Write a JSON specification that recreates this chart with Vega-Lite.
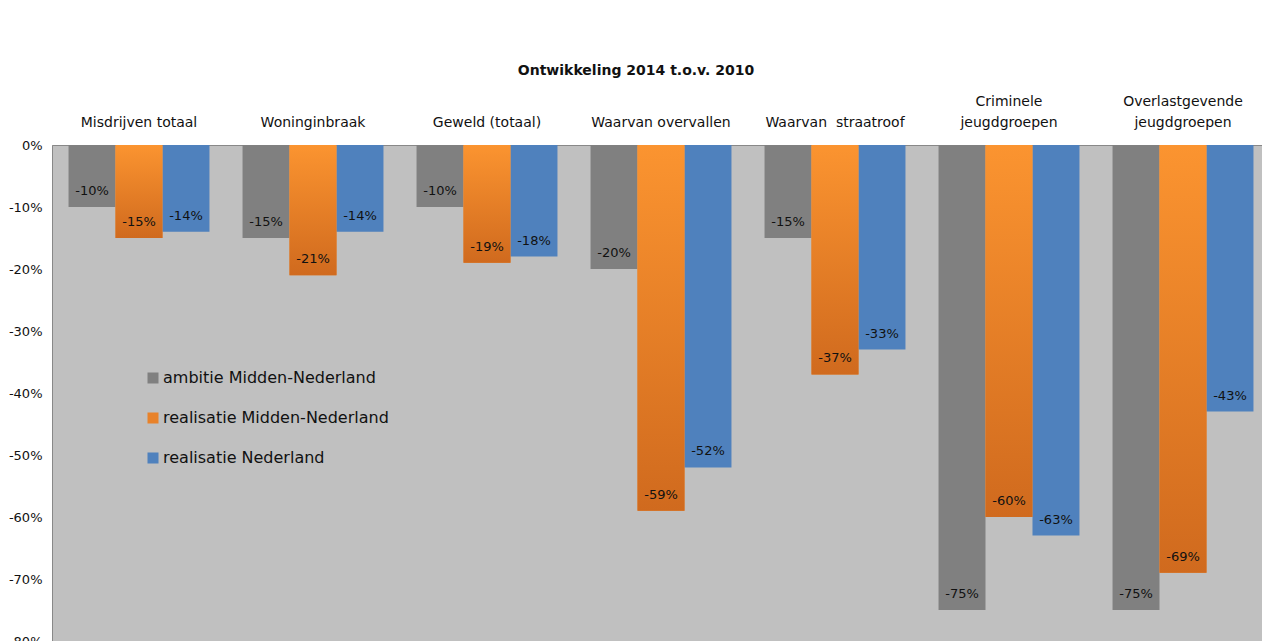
{
  "$schema": "https://vega.github.io/schema/vega-lite/v6.json",
  "width": 1218,
  "height": 496,
  "autosize": {"type": "none"},
  "padding": {"left": 52, "top": 145, "right": 0, "bottom": 0},
  "background": "white",
  "title": {"text": "Ontwikkeling  2014 t.o.v. 2010", "fontSize": 14, "fontWeight": "bold", "font": "DejaVu Sans", "color": "#111", "dx": -25, "offset": 16},
  "config": {
    "view": {"stroke": null, "fill": "#c0c0c0"},
    "font": "DejaVu Sans",
    "locale": {"number": {"decimal": ".", "thousands": ",", "grouping": [3], "currency": ["", ""], "minus": "-"}}
  },
  "data": {"values": [
    {"cat": "Misdrijven totaal", "series": "ambitie Midden-Nederland", "value": -0.10},
    {"cat": "Misdrijven totaal", "series": "realisatie Midden-Nederland", "value": -0.15},
    {"cat": "Misdrijven totaal", "series": "realisatie Nederland", "value": -0.14},
    {"cat": "Woninginbraak", "series": "ambitie Midden-Nederland", "value": -0.15},
    {"cat": "Woninginbraak", "series": "realisatie Midden-Nederland", "value": -0.21},
    {"cat": "Woninginbraak", "series": "realisatie Nederland", "value": -0.14},
    {"cat": "Geweld (totaal)", "series": "ambitie Midden-Nederland", "value": -0.10},
    {"cat": "Geweld (totaal)", "series": "realisatie Midden-Nederland", "value": -0.19},
    {"cat": "Geweld (totaal)", "series": "realisatie Nederland", "value": -0.18},
    {"cat": "Waarvan overvallen", "series": "ambitie Midden-Nederland", "value": -0.20},
    {"cat": "Waarvan overvallen", "series": "realisatie Midden-Nederland", "value": -0.59},
    {"cat": "Waarvan overvallen", "series": "realisatie Nederland", "value": -0.52},
    {"cat": "Waarvan \u00a0straatroof", "series": "ambitie Midden-Nederland", "value": -0.15},
    {"cat": "Waarvan \u00a0straatroof", "series": "realisatie Midden-Nederland", "value": -0.37},
    {"cat": "Waarvan \u00a0straatroof", "series": "realisatie Nederland", "value": -0.33},
    {"cat": "Criminele\njeugdgroepen", "series": "ambitie Midden-Nederland", "value": -0.75},
    {"cat": "Criminele\njeugdgroepen", "series": "realisatie Midden-Nederland", "value": -0.60},
    {"cat": "Criminele\njeugdgroepen", "series": "realisatie Nederland", "value": -0.63},
    {"cat": "Overlastgevende\njeugdgroepen", "series": "ambitie Midden-Nederland", "value": -0.75},
    {"cat": "Overlastgevende\njeugdgroepen", "series": "realisatie Midden-Nederland", "value": -0.69},
    {"cat": "Overlastgevende\njeugdgroepen", "series": "realisatie Nederland", "value": -0.43}
  ]},
  "encoding": {
    "x": {
      "field": "cat", "type": "nominal", "sort": null,
      "scale": {"paddingInner": 0.19, "paddingOuter": 0.095},
      "axis": {"orient": "top", "title": null, "labelAngle": 0, "labelExpr": "indexof(datum.label, '\\n') >= 0 ? split(datum.label, '\\n') : ['', datum.label]", "labelFontSize": 14, "labelLineHeight": 21, "labelColor": "#111", "ticks": false, "domainColor": "#888", "labelPadding": 37, "labelLimit": 0}
    },
    "xOffset": {"field": "series", "type": "nominal"},
    "y": {
      "field": "value", "type": "quantitative",
      "scale": {"domain": [-0.8, 0], "nice": false},
      "axis": {"title": null, "format": ".0%", "values": [0, -0.1, -0.2, -0.3, -0.4, -0.5, -0.6, -0.7, -0.8], "grid": false, "ticks": false, "labelFontSize": 13, "labelColor": "#111", "labelPadding": 10, "domainColor": "#888"}
    }
  },
  "layer": [
    {
      "mark": {"type": "bar"},
      "encoding": {
        "color": {
          "field": "series", "type": "nominal",
          "scale": {"domain": ["ambitie Midden-Nederland", "realisatie Midden-Nederland", "realisatie Nederland"], "range": ["#808080", "#e8822a", "#4f81bd"]},
          "legend": {"orient": "none", "legendX": 93, "legendY": 225, "title": null, "symbolType": "square", "symbolSize": 121, "symbolStrokeWidth": 0, "labelFontSize": 16, "labelColor": "#111", "rowPadding": 24, "labelOffset": 2, "labelLimit": 0}
        }
      }
    },
    {
      "transform": [{"filter": "datum.series == 'realisatie Midden-Nederland'"}],
      "mark": {"type": "bar", "color": {"gradient": "linear", "x1": 0, "y1": 0, "x2": 0, "y2": 1, "stops": [{"offset": 0, "color": "#fb9430"}, {"offset": 1, "color": "#d06a1e"}]}}
    },
    {
      "mark": {"type": "text", "dy": -16, "fontSize": 13, "color": "#111", "baseline": "middle"},
      "encoding": {"text": {"field": "value", "type": "quantitative", "format": ".0%"}}
    }
  ]
}
